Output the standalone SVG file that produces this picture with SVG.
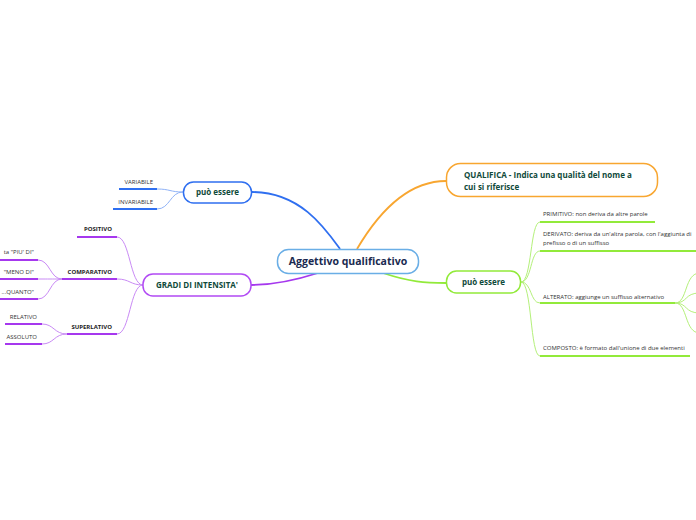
<svg xmlns="http://www.w3.org/2000/svg" width="696" height="520" viewBox="0 0 696 520">
<style>
.node{fill:#fff;stroke-width:1.5}
.nt{font-family:"Open Sans","Noto Sans",sans-serif;font-weight:bold;font-size:8px;fill:#0f4a3a}
.st{font-family:"Open Sans","Noto Sans",sans-serif;font-size:6px;fill:#333}
.sb{font-family:"Open Sans","Noto Sans",sans-serif;font-size:6px;font-weight:bold;fill:#222}
.c{fill:none}
.ul{fill:none;stroke-width:2}
</style>
<rect width="696" height="520" fill="#fff"/>
<g id="connectors">
  <!-- main branches -->
  <path class="c" d="M340,249 C325,228 300,192 252,192" stroke="#2f6ff0" stroke-width="1.8"/>
  <path class="c" d="M357,249 C380,210 410,181 446,181" stroke="#f8a630" stroke-width="1.8"/>
  <path class="c" d="M383,273 C410,282 425,283 446,283" stroke="#92ea3a" stroke-width="1.8"/>
  <path class="c" d="M318,273 C290,282 270,285 251,285" stroke="#a638ee" stroke-width="1.8"/>
  <!-- blue children -->
  <path class="c" d="M183,192 C170,192 170,189 157,189" stroke="#8fb2f7" stroke-width="1"/>
  <path class="c" d="M183,192 C170,192 170,209 157,209" stroke="#8fb2f7" stroke-width="1"/>
  <path class="ul" d="M119,189 H157" stroke="#2f6ff0"/>
  <path class="ul" d="M113,209 H157" stroke="#2f6ff0"/>
  <!-- green children -->
  <path class="c" d="M521,282 C532,282 530,222 540,222" stroke="#b4f07a" stroke-width="1"/>
  <path class="c" d="M521,282 C532,282 530,251 540,251" stroke="#b4f07a" stroke-width="1"/>
  <path class="c" d="M521,282 C532,282 530,303 540,303" stroke="#b4f07a" stroke-width="1"/>
  <path class="c" d="M521,282 C532,282 530,356 540,356" stroke="#b4f07a" stroke-width="1"/>
  <path class="ul" d="M540,222 H655" stroke="#92ea3a"/>
  <path class="ul" d="M540,251 H696" stroke="#92ea3a"/>
  <path class="ul" d="M540,303 H675" stroke="#92ea3a"/>
  <path class="ul" d="M540,356 H690" stroke="#92ea3a"/>
  <path class="c" d="M675,303 C688,303 684,273 700,273" stroke="#b4f07a" stroke-width="1"/>
  <path class="c" d="M675,303 C688,303 684,293 700,293" stroke="#b4f07a" stroke-width="1"/>
  <path class="c" d="M675,303 C688,303 684,313 700,313" stroke="#b4f07a" stroke-width="1"/>
  <path class="c" d="M675,303 C688,303 684,333 700,333" stroke="#b4f07a" stroke-width="1"/>
  <!-- purple children -->
  <path class="c" d="M143,285 C130,285 130,237 117,237" stroke="#c98af5" stroke-width="1"/>
  <path class="c" d="M143,285 C130,285 130,279 117,279" stroke="#c98af5" stroke-width="1"/>
  <path class="c" d="M143,285 C130,285 130,334 117,334" stroke="#c98af5" stroke-width="1"/>
  <path class="ul" d="M77,237 H117" stroke="#a638ee"/>
  <path class="ul" d="M62,279 H117" stroke="#a638ee"/>
  <path class="ul" d="M67,334 H117" stroke="#a638ee"/>
  <path class="c" d="M62,279 C50,279 50,260 38,260" stroke="#c98af5" stroke-width="1"/>
  <path class="c" d="M62,279 C50,279 50,279 38,279" stroke="#c98af5" stroke-width="1"/>
  <path class="c" d="M62,279 C50,279 50,299 38,299" stroke="#c98af5" stroke-width="1"/>
  <path class="ul" d="M0,260 H38" stroke="#a638ee"/>
  <path class="ul" d="M0,279 H38" stroke="#a638ee"/>
  <path class="ul" d="M0,299 H38" stroke="#a638ee"/>
  <path class="c" d="M67,334 C54,334 54,324 42,324" stroke="#c98af5" stroke-width="1"/>
  <path class="c" d="M67,334 C54,334 54,344 42,344" stroke="#c98af5" stroke-width="1"/>
  <path class="ul" d="M5,324 H42" stroke="#a638ee"/>
  <path class="ul" d="M5,344 H42" stroke="#a638ee"/>
</g>
<g id="central">
  <rect class="node" x="277.5" y="249.5" width="141" height="24" rx="11" stroke="#6aaee6"/>
  <text x="348" y="265" text-anchor="middle" font-family="'Open Sans','Noto Sans',sans-serif" font-weight="bold" font-size="10.5" fill="#1a2a50">Aggettivo qualificativo</text>
</g>
<g id="puo-essere-left">
  <rect class="node" x="183.5" y="182" width="68" height="21" rx="10" stroke="#2f6ff0"/>
  <text class="nt" x="217.5" y="195" text-anchor="middle">può essere</text>
</g>
<g id="variabile"><text class="st" x="153" y="184" text-anchor="end">VARIABILE</text></g>
<g id="invariabile"><text class="st" x="153" y="204" text-anchor="end">INVARIABILE</text></g>
<g id="qualifica">
  <rect class="node" x="446.5" y="163.5" width="211" height="33" rx="14" stroke="#f8a630"/>
  <text class="nt" x="464" y="178">QUALIFICA - Indica una qualità del nome a</text>
  <text class="nt" x="464" y="189.5">cui si riferisce</text>
</g>
<g id="puo-essere-right">
  <rect class="node" x="446.5" y="271" width="74" height="22" rx="10" stroke="#92ea3a"/>
  <text class="nt" x="483.5" y="285" text-anchor="middle">può essere</text>
</g>
<g id="primitivo"><text class="st" x="543" y="216">PRIMITIVO: non deriva da altre parole</text></g>
<g id="derivato">
  <text class="st" x="543" y="236">DERIVATO: deriva da un'altra parola, con l'aggiunta di</text>
  <text class="st" x="543" y="245">prefisso o di un suffisso</text>
</g>
<g id="alterato"><text class="st" x="543" y="299">ALTERATO: aggiunge un suffisso alternativo</text></g>
<g id="composto"><text class="st" x="543" y="350">COMPOSTO: è formato dall'unione di due elementi</text></g>
<g id="gradi">
  <rect class="node" x="143" y="274" width="108" height="22" rx="10" stroke="#b14af4"/>
  <text class="nt" x="197" y="288" text-anchor="middle">GRADI DI INTENSITA'</text>
</g>
<g id="positivo"><text class="sb" x="112" y="231" text-anchor="end">POSITIVO</text></g>
<g id="comparativo"><text class="sb" x="112" y="274" text-anchor="end">COMPARATIVO</text></g>
<g id="superlativo"><text class="sb" x="112" y="329" text-anchor="end">SUPERLATIVO</text></g>
<g id="piu-di"><text class="st" x="34" y="254" text-anchor="end">ta "PIU' DI"</text></g>
<g id="meno-di"><text class="st" x="34" y="274" text-anchor="end">"MENO DI"</text></g>
<g id="quanto"><text class="st" x="34" y="294" text-anchor="end">...QUANTO"</text></g>
<g id="relativo"><text class="st" x="37" y="319" text-anchor="end">RELATIVO</text></g>
<g id="assoluto"><text class="st" x="37" y="339" text-anchor="end">ASSOLUTO</text></g>
</svg>
